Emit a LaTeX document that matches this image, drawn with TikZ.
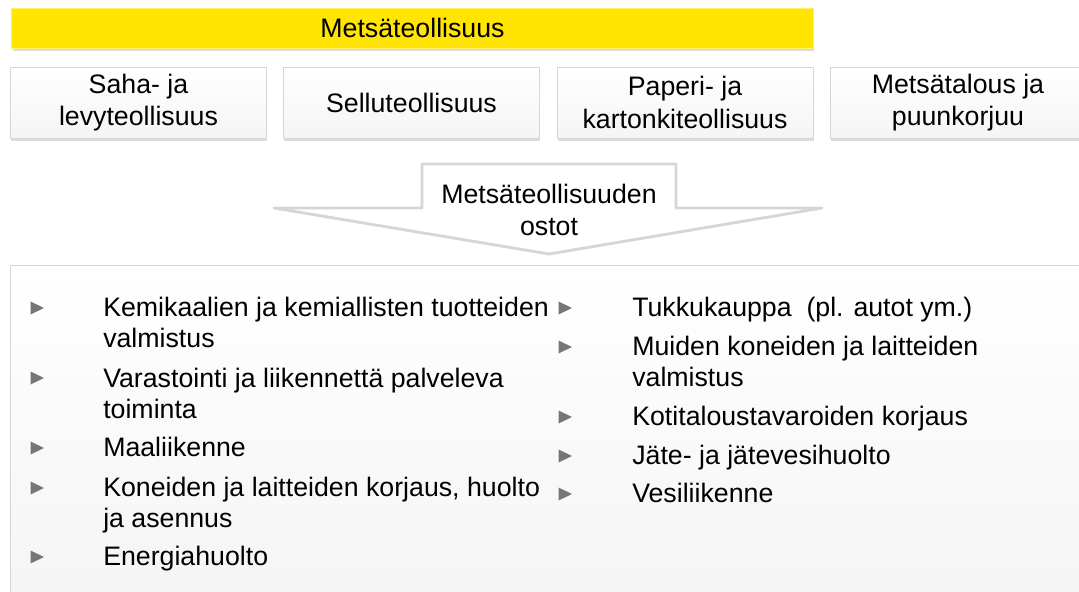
\documentclass[tikz,border=0pt]{standalone}
\usepackage{fontspec}
\setmainfont{Liberation Sans}
\usetikzlibrary{shadows}
\definecolor{keltainen}{RGB}{255,229,0}
\definecolor{reuna}{RGB}{214,214,214}
\definecolor{nuoli}{RGB}{118,118,118}

\begin{document}
\begin{tikzpicture}[x=0.025cm,y=-0.025cm,line join=round,
  varjo/.style={drop shadow={shadow xshift=0.5pt,shadow yshift=-1.8pt,opacity=0.28}},
  laatikko/.style={varjo,draw=reuna,line width=0.4pt,top color=white,bottom color=gray!8,
    minimum width=6.4cm,minimum height=1.775cm,align=center,inner sep=0pt,
    font=\fontsize{19}{23}\selectfont},
  kohta/.style={anchor=north west,align=left,inner sep=0pt,font=\fontsize{19}{22}\selectfont},
  bul/.pic={\fill[nuoli] (-6.5,-6.5) -- (7,0) -- (-6.5,6.5) -- cycle;}]
\useasboundingbox (0,0) rectangle (1079,592);
\clip (0,0) rectangle (1079,592);

% otsikko ja toimialat
\node[varjo,fill=keltainen,draw=keltainen!60!white,line width=0.6pt,minimum width=20.025cm,
  minimum height=1cm,inner sep=0pt,font=\fontsize{19}{23}\selectfont] (otsikko) at (412.5,28) {Mets\"ateollisuus};
\node[laatikko] (saha) at (138.5,102.5) {Saha- ja\\levyteollisuus};
\node[laatikko] (sellu) at (411.5,102.5) {Selluteollisuus};
\node[laatikko] (paperi) at (685,102.5) {Paperi- ja\\kartonkiteollisuus};
\node[laatikko] (metsa) at (958,102.5) {Mets\"atalous ja\\puunkorjuu};

% nuoli
\filldraw[fill=white,draw=reuna,line width=2pt] (422,164) -- (676,164) -- (676,208) -- (822,208)
  -- (549,254) -- (274,208) -- (422,208) -- cycle;
\node[align=center,inner sep=0pt,font=\fontsize{19}{23}\selectfont] (ostot) at (549,210) {Mets\"ateollisuuden\\ostot};

% ostot
\draw[varjo,draw=reuna,line width=0.4pt,top color=white,bottom color=gray!9] (10,265) rectangle (1110,630);

\node[kohta] (kemia) at (103,297) {Kemikaalien ja kemiallisten tuotteiden\\valmistus};
\node[kohta] (varasto) at (103,368) {Varastointi ja liikennett\"a palveleva\\toiminta};
\node[kohta] (maa) at (103,437) {Maaliikenne};
\node[kohta] (korjaus) at (103,477) {Koneiden ja laitteiden korjaus, huolto\\ja asennus};
\node[kohta] (energia) at (103,546) {Energiahuolto};

\node[kohta] (tukku) at (632,297) {Tukkukauppa~ (pl. autot ym.)};
\node[kohta] (muut) at (632,336) {Muiden koneiden ja laitteiden\\valmistus};
\node[kohta] (koti) at (632,406) {Kotitaloustavaroiden korjaus};
\node[kohta] (jate) at (632,445) {J\"ate- ja j\"atevesihuolto};
\node[kohta] (vesi) at (632,483) {Vesiliikenne};

\foreach \y in {308,378,448,488,557} \pic at (37,\y) {bul};
\foreach \y in {308,347,417,456,494} \pic at (565,\y) {bul};
\end{tikzpicture}
\end{document}
